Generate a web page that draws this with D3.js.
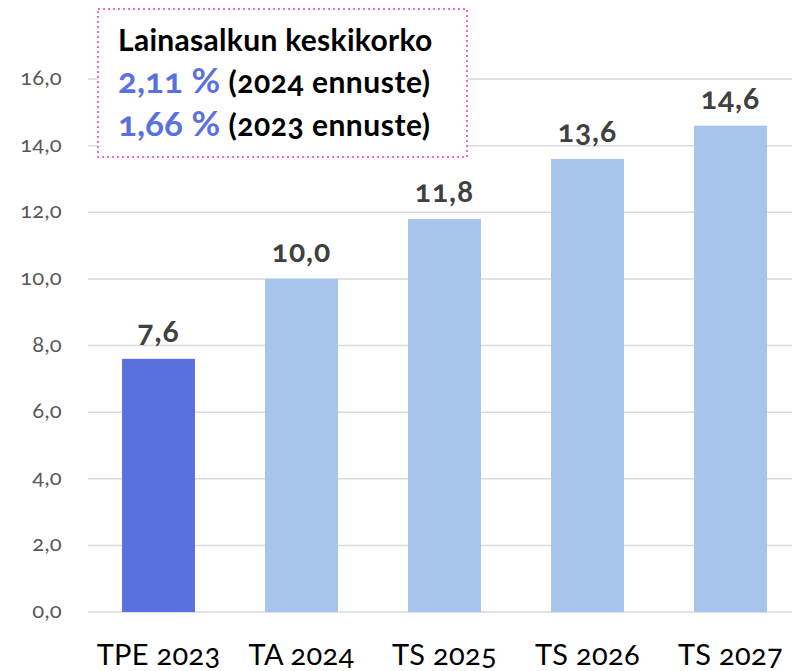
<!DOCTYPE html>
<html>
<head>
<meta charset="utf-8">
<style>
body { margin: 0; background: #fff; }
text { font-family: Lato, "Open Sans", sans-serif; font-feature-settings: "onum"; }
.grid line { stroke: #d9d9d9; stroke-width: 1.5px; }
</style>
</head>
<body>
<div id="chart"></div>
<script src="https://d3js.org/d3.v7.min.js"></script>
<script>

var width = 792, height = 671;

// data
var categories = ["TPE 2023", "TA 2024", "TS 2025", "TS 2026", "TS 2027"];
var values = [7.6, 10.0, 11.8, 13.6, 14.6];
var yTicks = [0, 2, 4, 6, 8, 10, 12, 14, 16];
var boxLines = [
  {pct: "2,11 %", note: "(2024 ennuste)"},
  {pct: "1,66 %", note: "(2023 ennuste)"}
];

var comma = function(v, d) { return v.toFixed(d).replace(".", ","); };

var svg = d3.select("#chart").append("svg")
    .attr("width", width)
    .attr("height", height);

var x = d3.scaleBand()
    .domain(categories)
    .range([87, 802])
    .paddingInner(0.49)
    .paddingOuter(0.245);

var y = d3.scaleLinear()
    .domain([0, 16])
    .range([612, 79]);

// gridlines
svg.append("g")
    .attr("class", "grid")
    .selectAll("line")
    .data(yTicks)
    .enter().append("line")
    .attr("x1", 88)
    .attr("x2", width)
    .attr("y1", function(d) { return y(d); })
    .attr("y2", function(d) { return y(d); });

// y axis labels
svg.append("g").selectAll("text")
    .data(yTicks)
    .enter().append("text")
    .attr("x", 62)
    .attr("y", function(d) { return y(d) + 6; })
    .attr("text-anchor", "end")
    .style("font-size", "22px")
    .style("letter-spacing", "0.3px")
    .style("fill", "#595959")
    .text(function(d) { return comma(d, 1); });

// bars
svg.append("g").selectAll("rect")
    .data(values)
    .enter().append("rect")
    .attr("x", function(d, i) { return x(categories[i]); })
    .attr("width", x.bandwidth())
    .attr("y", function(d) { return y(d); })
    .attr("height", function(d) { return y(0) - y(d); })
    .style("fill", function(d, i) { return i == 0 ? "#5b70df" : "#a7c5ec"; });

// value labels
svg.append("g").selectAll("text")
    .data(values)
    .enter().append("text")
    .attr("x", function(d, i) { return x(categories[i]) + x.bandwidth() / 2; })
    .attr("y", function(d) { return y(d) - 17; })
    .attr("text-anchor", "middle")
    .style("font-size", "30px")
    .style("letter-spacing", "1px")
    .style("font-weight", "bold")
    .style("fill", "#404040")
    .text(function(d) { return comma(d, 1); });

// category labels
svg.append("g").selectAll("text")
    .data(categories)
    .enter().append("text")
    .attr("x", function(d) { return x(d) + x.bandwidth() / 2; })
    .attr("y", 665)
    .attr("text-anchor", "middle")
    .style("font-size", "29px")
    .style("letter-spacing", "0.3px")
    .style("fill", "#000")
    .text(function(d) { return d; });

// info box
var box = svg.append("g");
box.append("rect")
    .attr("x", 98)
    .attr("y", 9)
    .attr("width", 369)
    .attr("height", 148)
    .style("fill", "#fff")
    .style("stroke", "#f06ccb")
    .style("stroke-width", 2)
    .style("stroke-dasharray", "2,3");

box.append("text")
    .attr("x", 118)
    .attr("y", 51)
    .style("font-size", "30px")
    .style("letter-spacing", "0.3px")
    .style("font-weight", "bold")
    .style("fill", "#000")
    .text("Lainasalkun keskikorko");

var rows = box.selectAll("text.row")
    .data(boxLines)
    .enter().append("text")
    .attr("class", "row")
    .attr("x", 118)
    .attr("y", function(d, i) { return 93 + i * 43; });
rows.append("tspan")
    .style("font-size", "35px")
    .style("font-weight", "bold")
    .style("fill", "#5b70df")
    .text(function(d) { return d.pct + " "; });
rows.append("tspan")
    .style("font-size", "30px")
    .style("letter-spacing", "0.5px")
    .style("font-weight", "bold")
    .style("fill", "#000")
    .text(function(d) { return d.note; });

</script>
</body>
</html>
